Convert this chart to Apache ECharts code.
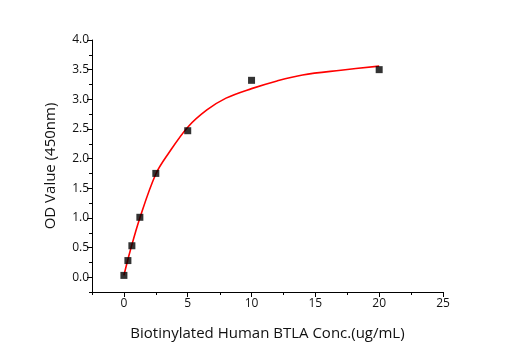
<!DOCTYPE html>
<html>
<head>
<meta charset="utf-8">
<script src="https://cdn.jsdelivr.net/npm/echarts@6/dist/echarts.min.js"></script>
<style>html,body{margin:0;padding:0;background:#fff}#c{width:515px;height:350px}</style>
</head>
<body>
<div id="c"></div>
<script>
var concX = [0, 0.3125, 0.625, 1.25, 2.5, 5, 10, 20];
var odY = [0.03, 0.28, 0.53, 1.01, 1.75, 2.47, 3.32, 3.50];
var fitX = [0, 0.5, 1.25, 2.5, 3.5, 5, 6.5, 8, 10, 12, 14, 17, 20];
var fitY = [0.03, 0.45, 1.0, 1.74, 2.09, 2.53, 2.82, 3.02, 3.18, 3.31, 3.41, 3.49, 3.56];
var xMajor = [0, 5, 10, 15, 20, 25];
var xMinor = [-2.5, 2.5, 7.5, 12.5, 17.5, 22.5];
var yMajor = [0, 0.5, 1.0, 1.5, 2.0, 2.5, 3.0, 3.5, 4.0];
var yMinor = [-0.25, 0.25, 0.75, 1.25, 1.75, 2.25, 2.75, 3.25, 3.75];

var X_MIN = -2.5, X_MAX = 25, Y_MIN = -0.25, Y_MAX = 4.0;
var font = "'Open Sans', 'DejaVu Sans', sans-serif";
var chart = echarts.init(document.getElementById('c'));
var lineStyle = {color: '#000', width: 1};
function pair(xs, ys) { return xs.map(function (v, i) { return [v, ys[i]]; }); }
chart.setOption({
  animation: false,
  grid: {left: 92, right: 72, top: 40, bottom: 58, containLabel: false},
  xAxis: {
    type: 'value', min: X_MIN, max: X_MAX, position: 'bottom',
    name: 'Biotinylated Human BTLA Conc.(ug/mL)', nameLocation: 'middle', nameGap: 34,
    nameTextStyle: {fontFamily: font, fontSize: 15, color: '#111'},
    axisLine: {show: true, onZero: false, lineStyle: lineStyle},
    axisTick: {show: true, inside: false, length: 5, lineStyle: lineStyle, customValues: xMajor},
    axisLabel: {fontFamily: font, fontSize: 12, color: '#111', margin: 6, customValues: xMajor},
    splitLine: {show: false}
  },
  yAxis: {
    type: 'value', min: Y_MIN, max: Y_MAX, position: 'left',
    name: 'OD Value (450nm)', nameLocation: 'middle', nameGap: 34, nameRotate: 90,
    nameTextStyle: {fontFamily: font, fontSize: 15, color: '#111'},
    axisLine: {show: true, onZero: false, lineStyle: lineStyle},
    axisTick: {show: true, inside: false, length: 5, lineStyle: lineStyle, customValues: yMajor},
    axisLabel: {fontFamily: font, fontSize: 12, color: '#111', margin: 3, customValues: yMajor,
      formatter: function (v) { return v.toFixed(1); }},
    splitLine: {show: false}
  },
  series: [{
    type: 'line',
    data: pair(fitX, fitY), smooth: 0.35, showSymbol: false,
    lineStyle: {color: '#ff0000', width: 1.6}, z: 2
  }, {
    type: 'scatter',
    data: pair(concX, odY), symbol: 'rect', symbolSize: 7,
    itemStyle: {color: '#000'}, z: 3
  }]
});

// minor ticks, positioned through the library's own axis scales
var axisBottom = Math.round(chart.convertToPixel({yAxisIndex: 0}, Y_MIN));
var axisLeft = Math.round(chart.convertToPixel({xAxisIndex: 0}, X_MIN));
var minor = [];
xMinor.forEach(function (v) {
  var px = Math.round(chart.convertToPixel({xAxisIndex: 0}, v));
  minor.push({type: 'rect', silent: true, z: 100, shape: {x: px, y: axisBottom, width: 1, height: 3}, style: {fill: '#000'}});
});
yMinor.forEach(function (v) {
  var py = Math.round(chart.convertToPixel({yAxisIndex: 0}, v));
  minor.push({type: 'rect', silent: true, z: 100, shape: {x: axisLeft - 3, y: py, width: 3, height: 1}, style: {fill: '#000'}});
});
chart.setOption({graphic: {elements: minor}});
</script>
</body>
</html>
